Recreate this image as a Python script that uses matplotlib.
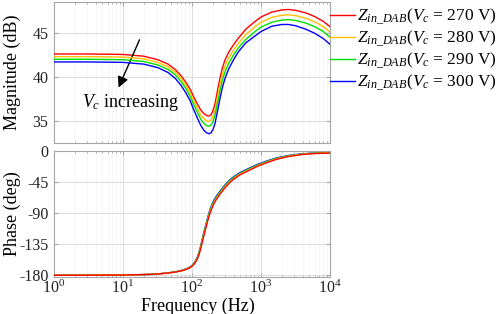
import matplotlib
matplotlib.use("Agg")
import matplotlib.pyplot as plt
from matplotlib.ticker import LogLocator, FixedLocator, NullFormatter, LogFormatterMathtext

plt.rcParams['font.family'] = ['Liberation Serif', 'DejaVu Serif']
plt.rcParams['mathtext.fontset'] = 'custom'
plt.rcParams['mathtext.rm'] = 'Liberation Serif'
plt.rcParams['mathtext.it'] = 'Liberation Serif:italic'

# ---------------- data ----------------
freq_mag = [1, 3, 10, 20, 32, 45, 57, 70, 82, 94, 105, 120, 135, 150, 165, 176, 188, 200, 215, 235,
            255, 275, 300, 340, 400, 470, 600, 820, 1000, 1430, 2000, 2500, 3200, 4500, 6000, 8000, 10000]
mag_270 = [42.6, 42.6, 42.55, 42.35, 41.95, 41.45, 40.85, 40.1, 39.35, 38.6, 37.8, 36.9, 36.2, 35.8,
           35.6, 35.55, 35.7, 36.1, 36.9, 38.5, 39.9, 41.0, 41.9, 42.8, 43.65, 44.4, 45.4, 46.3, 46.8,
           47.35, 47.6, 47.65, 47.55, 47.25, 46.85, 46.3, 45.7]
mag_280 = [42.3, 42.3, 42.25, 42.05, 41.65, 41.15, 40.55, 39.8, 39.0, 38.2, 37.35, 36.4, 35.65, 35.22,
           35.0, 34.95, 35.08, 35.45, 36.2, 37.75, 39.15, 40.27, 41.2, 42.15, 43.05, 43.8, 44.8, 45.7,
           46.2, 46.75, 47.0, 47.05, 46.95, 46.65, 46.25, 45.7, 45.1]
mag_290 = [42.0, 42.0, 41.95, 41.75, 41.35, 40.85, 40.25, 39.45, 38.65, 37.8, 36.95, 35.95, 35.15, 34.7,
           34.45, 34.4, 34.52, 34.87, 35.6, 37.08, 38.45, 39.6, 40.55, 41.55, 42.5, 43.3, 44.25, 45.15,
           45.65, 46.2, 46.45, 46.5, 46.4, 46.1, 45.7, 45.15, 44.5]
mag_300 = [41.7, 41.7, 41.65, 41.45, 41.05, 40.5, 39.85, 39.0, 38.15, 37.3, 36.35, 35.3, 34.45, 33.9,
           33.63, 33.55, 33.65, 33.98, 34.68, 36.17, 37.57, 38.75, 39.8, 40.9, 41.95, 42.85, 43.85, 44.65,
           45.15, 45.75, 45.95, 45.95, 45.8, 45.4, 44.95, 44.35, 43.7]

freq_ph = [1, 10, 27, 43, 60, 74, 90, 100, 110, 120, 130, 140, 150, 160, 170, 182, 195, 210, 228, 260,
           300, 355, 420, 500, 600, 700, 900, 1210, 1690, 2500, 4000, 6000, 10000]
ph_270 = [-180, -179.7, -178.6, -177, -175, -173, -170, -167, -162.5, -156, -146, -133, -121, -110, -100,
          -90, -82, -75, -69, -61, -53, -45, -39, -34, -30, -26.8, -21.5, -16.5, -11.5, -7.5, -4.5, -3.2, -2.5]
ph_280 = [-180, -179.7, -178.6, -176.9, -174.9, -172.8, -169.7, -166.6, -161.9, -155.1, -144.8, -131.5,
          -119.4, -108.3, -98.3, -88.3, -80.4, -73.4, -67.5, -59.6, -51.7, -43.8, -37.9, -32.9, -29, -25.8,
          -20.6, -15.7, -10.8, -7, -4.2, -3, -2.3]
ph_290 = [-180, -179.7, -178.6, -176.9, -174.7, -172.6, -169.4, -166.2, -161.3, -154.3, -143.6, -130.1,
          -117.8, -106.7, -96.7, -86.7, -78.7, -71.9, -66, -58.2, -50.3, -42.5, -36.7, -31.9, -27.9, -24.8,
          -19.7, -14.9, -10.2, -6.5, -3.8, -2.7, -2.2]
ph_300 = [-180, -179.7, -178.6, -176.8, -174.6, -172.4, -169.1, -165.8, -160.7, -153.4, -142.4, -128.6,
          -116.2, -105, -95, -85, -77.1, -70.3, -64.5, -56.8, -49, -41.3, -35.6, -30.8, -26.9, -23.8,
          -18.8, -14.1, -9.5, -6, -3.5, -2.5, -2.0]

voltages = ['270', '280', '290', '300']
colors = ['#ff0000', '#ffc000', '#00e000', '#0000ff']
mag_yticks = [35, 40, 45]
ph_yticks = [0, -45, -90, -135, -180]
ph_ylabels = ['0', '-45', '-90', '-135', '-180']

# ---------------- figure ----------------
fig = plt.figure(figsize=(4.98, 3.14), dpi=100)
W, H = 498, 314
ax1 = fig.add_axes([54 / W, 1 - 143 / H, 276 / W, 141 / H])
ax2 = fig.add_axes([54 / W, 1 - 277 / H, 276 / W, 126 / H])

mags = [mag_270, mag_280, mag_290, mag_300]
phs = [ph_270, ph_280, ph_290, ph_300]
for i, (v, c) in enumerate(zip(voltages, colors)):
    ax1.plot(freq_mag, mags[i], color=c, lw=1.0,
             label=r'$Z_{in\_DAB}(V_c$ = ' + v + ' V)', zorder=3 + i)
for i in reversed(range(4)):
    ax2.plot(freq_ph, phs[i], color=colors[i], lw=1.0, zorder=3 + (3 - i))

spine_col = '#a6a6a6'
for ax in (ax1, ax2):
    ax.set_xscale('log')
    ax.set_xlim(1, 1e4)
    ax.xaxis.set_major_locator(LogLocator(base=10, numticks=10))
    ax.xaxis.set_minor_locator(LogLocator(base=10, subs=range(2, 10), numticks=50))
    ax.xaxis.set_minor_formatter(NullFormatter())
    ax.grid(True, which='major', color='#dcdcdc', lw=0.7)
    ax.grid(True, which='minor', axis='x', color='#f3f3f3', lw=0.5)
    ax.tick_params(which='both', direction='in', top=True, right=True, colors=spine_col,
                   labelcolor='#222222', labelsize=11.5)
    ax.tick_params(axis='y', pad=4)
    ax.tick_params(which='major', length=3)
    ax.tick_params(which='minor', length=1.5)
    for s in ax.spines.values():
        s.set_color(spine_col)
        s.set_linewidth(0.8)
    ax.set_axisbelow(True)

ax1.set_ylim(32.5, 48.5)
ax1.set_yticks(mag_yticks)
ax1.set_xticklabels([])
ax1.set_ylabel('Magnitude (dB)', fontsize=13, va='center')
ax1.yaxis.set_label_coords(-42 / 276, 0.5)

ax2.set_ylim(-182.5, 0.5)
ax2.yaxis.set_major_locator(FixedLocator(ph_yticks))
ax2.set_yticklabels(ph_ylabels)
ax2.xaxis.set_major_formatter(LogFormatterMathtext())
ax2.tick_params(axis='x', which='both', pad=2)
ax2.set_ylabel('Phase (deg)', fontsize=13, va='center')
ax2.yaxis.set_label_coords(-42 / 276, 0.5)
ax2.set_xlabel('Frequency (Hz)', fontsize=13, va='center')
ax2.xaxis.set_label_coords(0.522, -0.235)

ax1.annotate('', xy=(8.3, 38.5), xytext=(18, 44.5),
             arrowprops=dict(arrowstyle='-|>', color='k', lw=1.0, mutation_scale=16))
ax1.text(2.55, 37.05, r'$V_c$ increasing', fontsize=13, va='center', ha='left')

leg = ax1.legend(loc='upper left', bbox_to_anchor=(1.0, 0.965), frameon=False, fontsize=12.5,
                 handlelength=1.45, handletextpad=0.1, labelspacing=0.08, borderaxespad=0,
                 borderpad=0)

fig.savefig('out.png', dpi=100)
